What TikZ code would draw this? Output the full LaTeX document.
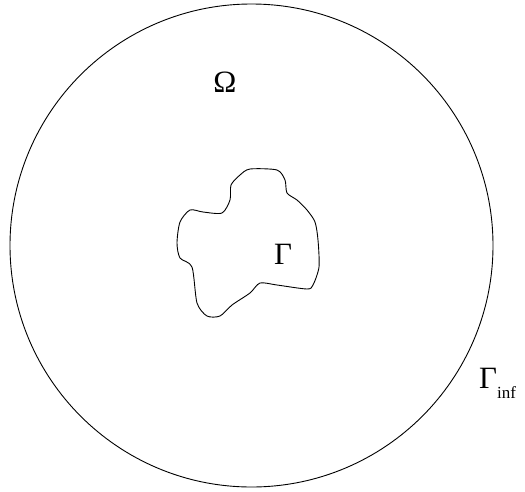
\documentclass[tikz,border=0pt]{standalone}
\usepackage{fontspec}
\setmainfont{Liberation Serif}
\begin{document}
\begin{tikzpicture}[x=1pt,y=-1pt,
  lbl/.style={inner sep=0pt,font=\fontsize{31}{34}\selectfont},
  curve/.style={draw=black,line width=0.9pt}]
\useasboundingbox (0,0) rectangle (525,491);
\node[curve,circle,minimum size=483pt,inner sep=0pt] (dom) at (251.5,245.5) {};
\draw[curve] plot[smooth cycle,tension=0.45] coordinates {
 (250,169) (277,170) (285,180) (287,193) (297,200) (307,210) (315,222)
 (318,240) (319,267) (313,285) (307,289) (277,285) (260,283) (250,293)
 (232,305) (220,316) (207,316) (197,303) (192,267) (180,258) (177,243)
 (180,222) (190,210) (203,212) (222,213) (230,200) (231,185) (240,175)};
\node[lbl] (omega) at (225,82) {Ω};
\node[lbl] (gam) at (283,254) {Γ};
\node[lbl,anchor=base west] (ginf) at (479,388) {Γ\raisebox{-0.33em}{\fontsize{17}{19}\selectfont inf}};
\end{tikzpicture}
\end{document}
